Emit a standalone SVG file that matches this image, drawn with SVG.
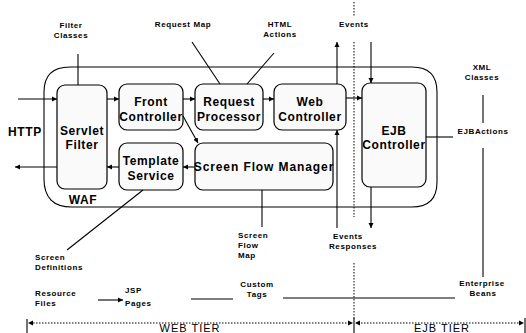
<svg xmlns="http://www.w3.org/2000/svg" width="526" height="333" viewBox="0 0 526 333">
<defs>
<marker id="ah" markerWidth="6" markerHeight="6" refX="5" refY="3" orient="auto" markerUnits="userSpaceOnUse">
<path d="M0,0.5 L5,3 L0,5.5 Z" fill="#000"/>
</marker>
<style>
.box{fill:#fafafa;stroke:#000;stroke-width:1.2}
.ln{stroke:#000;stroke-width:1.1;fill:none}
.dot{stroke:#000;stroke-width:1;stroke-dasharray:1.5,1.5;fill:none}
.bt{font-family:"Liberation Sans",Arial,sans-serif;font-size:12px;font-weight:bold;text-anchor:middle;letter-spacing:0.6px}
.sm{font-family:"Liberation Sans",Arial,sans-serif;font-size:8px;font-weight:bold;letter-spacing:0.6px}
.mid{text-anchor:middle}
.tier{font-family:"Liberation Sans",Arial,sans-serif;font-size:11px;text-anchor:middle;letter-spacing:1px}
</style>
</defs>
<rect width="526" height="333" fill="#fff"/>
<g id="waf">
<path d="M70,67 H412 Q437,67 437,92 V182 Q437,207 412,207 H72 Q44,207 44,179 V92 Q44,67 70,67 Z" class="ln" stroke-width="1.3"/>
<text x="83" y="204" class="bt">WAF</text>
</g>
<g id="servlet-filter">
<rect x="57" y="85" width="50" height="104" rx="8" class="box"/>
<text x="82" y="135" class="bt">Servlet</text>
<text x="82" y="149" class="bt">Filter</text>
</g>
<g id="front-controller">
<rect x="119" y="84" width="64" height="46" rx="8" class="box"/>
<text x="151" y="106" class="bt">Front</text>
<text x="151" y="121" class="bt">Controller</text>
</g>
<g id="request-processor">
<rect x="195" y="84" width="68" height="46" rx="8" class="box"/>
<text x="229" y="106" class="bt">Request</text>
<text x="229" y="121" class="bt">Processor</text>
</g>
<g id="web-controller">
<rect x="274" y="84" width="72" height="46" rx="8" class="box"/>
<text x="310" y="106" class="bt">Web</text>
<text x="310" y="121" class="bt">Controller</text>
</g>
<g id="ejb-controller">
<rect x="362" y="83" width="64" height="104" rx="8" class="box"/>
<text x="394" y="135" class="bt">EJB</text>
<text x="394" y="149" class="bt">Controller</text>
</g>
<g id="template-service">
<rect x="119" y="143" width="64" height="47" rx="8" class="box"/>
<text x="151" y="165" class="bt">Template</text>
<text x="151" y="180" class="bt">Service</text>
</g>
<g id="screen-flow-manager">
<rect x="195" y="143" width="138" height="47" rx="8" class="box"/>
<text x="264" y="171" class="bt" style="letter-spacing:0.9px">Screen Flow Manager</text>
</g>
<g id="connectors">
<line x1="18" y1="99" x2="57" y2="99" class="ln" marker-end="url(#ah)"/>
<line x1="57" y1="167" x2="15" y2="167" class="ln" marker-end="url(#ah)"/>
<line x1="107" y1="99" x2="119" y2="99" class="ln" marker-end="url(#ah)"/>
<line x1="183" y1="99" x2="195" y2="99" class="ln" marker-end="url(#ah)"/>
<line x1="263" y1="99" x2="274" y2="99" class="ln" marker-end="url(#ah)"/>
<line x1="346" y1="98" x2="362" y2="98" class="ln" marker-end="url(#ah)"/>
<line x1="183" y1="116" x2="198" y2="143" class="ln" marker-end="url(#ah)"/>
<line x1="195" y1="167" x2="183" y2="167" class="ln" marker-end="url(#ah)"/>
<line x1="119" y1="167" x2="107" y2="167" class="ln" marker-end="url(#ah)"/>
<line x1="337" y1="84" x2="337" y2="42" class="ln" marker-end="url(#ah)"/>
<line x1="371" y1="42" x2="371" y2="83" class="ln" marker-end="url(#ah)"/>
<line x1="337" y1="228" x2="337" y2="130" class="ln" marker-end="url(#ah)"/>
<line x1="371" y1="187" x2="371" y2="228" class="ln" marker-end="url(#ah)"/>
<line x1="354" y1="2" x2="354" y2="16" class="dot"/>
<line x1="354" y1="42" x2="354" y2="217" class="dot"/>
<line x1="354" y1="263" x2="354" y2="320" class="dot"/>
<line x1="78" y1="54" x2="78" y2="85" class="ln"/>
<line x1="192" y1="42" x2="220" y2="84" class="ln"/>
<line x1="247" y1="84" x2="274" y2="53" class="ln"/>
<line x1="143" y1="190" x2="67" y2="250" class="ln"/>
<line x1="262" y1="190" x2="262" y2="227" class="ln"/>
<line x1="426" y1="137" x2="453" y2="137" class="ln"/>
<line x1="483" y1="95" x2="483" y2="123" class="ln"/>
<line x1="483" y1="148" x2="483" y2="277" class="ln" stroke="#555"/>
<line x1="98" y1="300" x2="123" y2="300" class="ln" stroke-width="0.8" marker-end="url(#ah)"/>
<line x1="191" y1="299" x2="233" y2="299" class="ln"/>
<line x1="283" y1="298" x2="455" y2="298" class="ln"/>
<line x1="30" y1="323" x2="351" y2="323" class="dot"/>
<path d="M33,320.5 L28,323 L33,325.5 Z" fill="#000"/>
<path d="M348,320.5 L353,323 L348,325.5 Z" fill="#000"/>
<line x1="358" y1="323" x2="523" y2="323" class="dot"/>
<path d="M360,320.5 L355,323 L360,325.5 Z" fill="#000"/>
<path d="M519,320.5 L524,323 L519,325.5 Z" fill="#000"/>
<line x1="27" y1="319" x2="27" y2="333" class="ln"/>
<line x1="354" y1="318" x2="354" y2="333" class="ln"/>
<line x1="525" y1="318" x2="525" y2="333" class="ln"/>
</g>
<g id="labels">
<text x="71" y="28" class="sm mid">Filter</text>
<text x="71" y="38" class="sm mid">Classes</text>
<text x="183" y="27" class="sm mid">Request Map</text>
<text x="280" y="27" class="sm mid">HTML</text>
<text x="280" y="37" class="sm mid">Actions</text>
<text x="354" y="27" class="sm mid">Events</text>
<text x="482" y="70" class="sm mid">XML</text>
<text x="482" y="80" class="sm mid">Classes</text>
<text x="483" y="134" class="sm mid">EJBActions</text>
<text x="8" y="136" class="bt" style="text-anchor:start">HTTP</text>
<text x="348" y="239" class="sm mid">Events</text>
<text x="353" y="249" class="sm mid">Responses</text>
<text x="238" y="238" class="sm">Screen</text>
<text x="238" y="248" class="sm">Flow</text>
<text x="238" y="258" class="sm">Map</text>
<text x="35" y="260" class="sm">Screen</text>
<text x="35" y="270" class="sm">Definitions</text>
<text x="35" y="296" class="sm">Resource</text>
<text x="35" y="306" class="sm">Files</text>
<text x="125" y="293" class="sm">JSP</text>
<text x="125" y="306" class="sm">Pages</text>
<text x="257" y="287" class="sm mid">Custom</text>
<text x="257" y="297" class="sm mid">Tags</text>
<text x="482" y="286" class="sm mid">Enterprise</text>
<text x="483" y="296" class="sm mid">Beans</text>
<text x="190" y="332" class="tier">WEB TIER</text>
<text x="442" y="332" class="tier">EJB TIER</text>
</g>
</svg>
